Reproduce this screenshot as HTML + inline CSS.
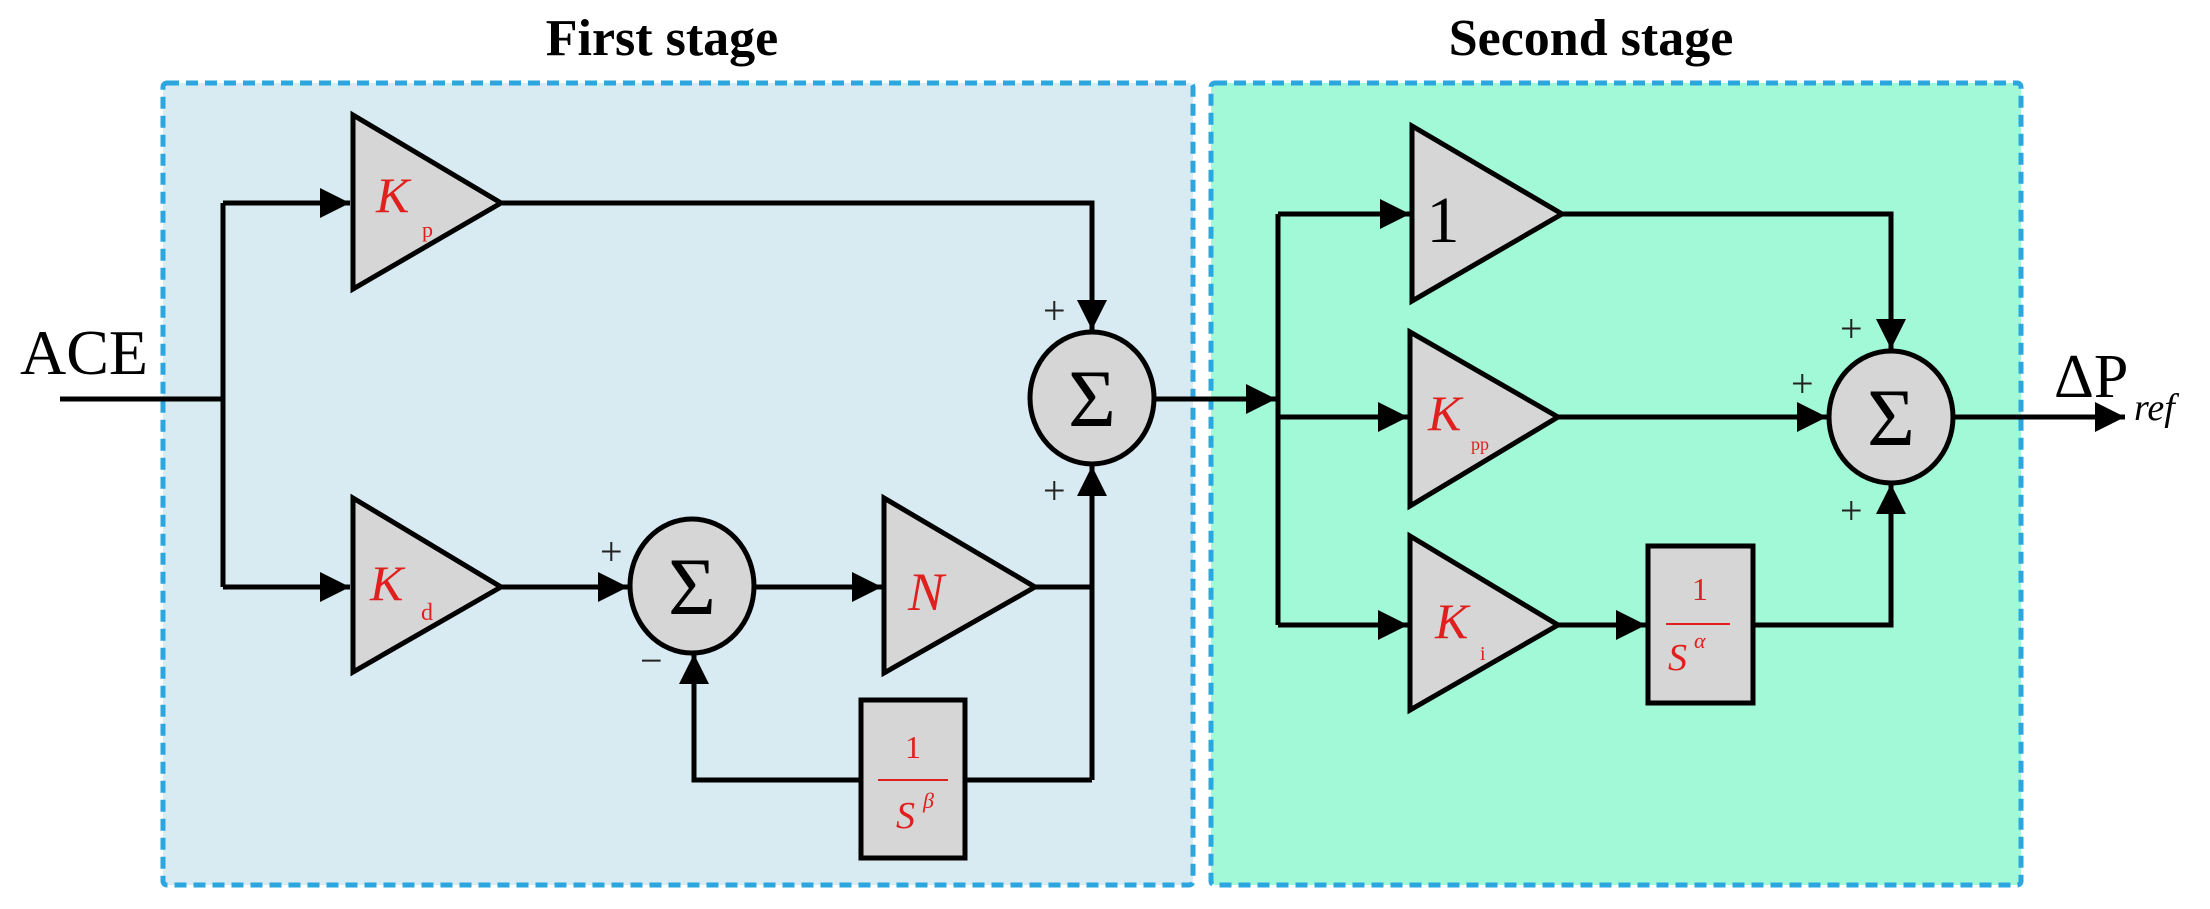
<!DOCTYPE html>
<html><head><meta charset="utf-8"><style>
html,body{margin:0;padding:0;background:#fff;}
svg{display:block;}
.t{font-family:"Liberation Serif",serif;}
</style></head><body>
<svg width="2210" height="909" viewBox="0 0 2210 909" xmlns="http://www.w3.org/2000/svg">
<defs>
<marker id="a" viewBox="0 0 10 10" refX="10" refY="5" markerWidth="6" markerHeight="6" orient="auto" markerUnits="strokeWidth"><path d="M0,0 L10,5 L0,10 z" fill="#000"/></marker>
</defs>
<rect x="163" y="83" width="1030" height="802" fill="#d9ebf2" stroke="#2ba6de" stroke-width="5" stroke-dasharray="12,7" rx="4"/>
<rect x="1211" y="83" width="810" height="802" fill="#a2f9d8" stroke="#2ba6de" stroke-width="5" stroke-dasharray="12,7" rx="4"/>
<text class="t" x="662" y="55" font-size="52" font-weight="bold" text-anchor="middle">First stage</text>
<text class="t" x="1591" y="55" font-size="52" font-weight="bold" text-anchor="middle">Second stage</text>
<text class="t" x="20" y="374" font-size="64">ACE</text>
<g stroke="#000" stroke-width="5" fill="none">
<polyline points="60,399 223,399"/>
<polyline points="223,203 223,587"/>
<line x1="223" y1="203" x2="350" y2="203" marker-end="url(#a)"/>
<line x1="223" y1="587" x2="350" y2="587" marker-end="url(#a)"/>
<polyline points="502,203 1092,203 1092,330" marker-end="url(#a)"/>
<line x1="502" y1="587" x2="628" y2="587" marker-end="url(#a)"/>
<line x1="754" y1="587" x2="882" y2="587" marker-end="url(#a)"/>
<polyline points="1035,587 1092,587"/>
<polyline points="1092,780 1092,466" marker-end="url(#a)"/>
<polyline points="1092,780 965,780"/>
<polyline points="861,780 694,780 694,654" marker-end="url(#a)"/>
<line x1="1154" y1="399" x2="1276" y2="399" marker-end="url(#a)"/>
<polyline points="1278,214 1278,625"/>
<line x1="1278" y1="214" x2="1410" y2="214" marker-end="url(#a)"/>
<line x1="1278" y1="417" x2="1408" y2="417" marker-end="url(#a)"/>
<line x1="1278" y1="625" x2="1408" y2="625" marker-end="url(#a)"/>
<polyline points="1562,214 1891,214 1891,349" marker-end="url(#a)"/>
<line x1="1558" y1="417" x2="1827" y2="417" marker-end="url(#a)"/>
<line x1="1558" y1="625" x2="1646" y2="625" marker-end="url(#a)"/>
<polyline points="1753,625 1891,625 1891,484" marker-end="url(#a)"/>
<line x1="1953" y1="417" x2="2125" y2="417" marker-end="url(#a)"/>
</g>
<g stroke="#000" stroke-width="5" fill="#d6d6d6">
<polygon points="353,115 353,289 501,203"/>
<polygon points="353,498 353,672 501,587"/>
<polygon points="884,498 884,673 1035,587"/>
<polygon points="1412,126 1412,301 1562,214"/>
<polygon points="1410,332 1410,506 1558,417"/>
<polygon points="1410,536 1410,710 1558,625"/>
<ellipse cx="1092" cy="398" rx="62" ry="66"/>
<ellipse cx="692" cy="586" rx="62" ry="67"/>
<ellipse cx="1891" cy="417" rx="62" ry="66"/>
<rect x="861" y="700" width="104" height="158"/>
<rect x="1648" y="546" width="105" height="157"/>
</g>
<g class="t" font-size="82" text-anchor="middle">
<text x="1092" y="426">Σ</text>
<text x="692" y="614">Σ</text>
<text x="1891" y="445">Σ</text>
</g>
<g class="t" font-size="40" fill="#222">
<text x="1043" y="324">+</text>
<text x="1043" y="504">+</text>
<text x="600" y="565">+</text>
<text x="640" y="674">−</text>
<text x="1840" y="342">+</text>
<text x="1791" y="397">+</text>
<text x="1840" y="524">+</text>
</g>
<g class="t" fill="#e0201e" font-style="italic">
<text x="376" y="212" font-size="50">K</text>
<text x="422" y="237" font-size="22" font-style="normal">p</text>
<text x="370" y="600" font-size="50">K</text>
<text x="421" y="620" font-size="24" font-style="normal">d</text>
<text x="908" y="610" font-size="54">N</text>
<text x="1428" y="430" font-size="50">K</text>
<text x="1471" y="450" font-size="18" font-style="normal">pp</text>
<text x="1435" y="638" font-size="50">K</text>
<text x="1480" y="660" font-size="20" font-style="normal">i</text>
<text x="913" y="758" font-size="32" font-style="normal" text-anchor="middle">1</text>
<text x="896" y="828" font-size="38">S</text>
<text x="923" y="808" font-size="22">β</text>
<text x="1700" y="600" font-size="32" font-style="normal" text-anchor="middle">1</text>
<text x="1668" y="670" font-size="38">S</text>
<text x="1694" y="648" font-size="22">α</text>
</g>
<line x1="878" y1="780" x2="948" y2="780" stroke="#e0201e" stroke-width="2"/>
<line x1="1666" y1="624" x2="1730" y2="624" stroke="#e0201e" stroke-width="2"/>
<text class="t" x="1443" y="242" font-size="66" text-anchor="middle">1</text>
<text class="t" x="2054" y="397" font-size="62">ΔP</text>
<text class="t" x="2134" y="420" font-size="38" font-style="italic">ref</text>
</svg>
</body></html>
